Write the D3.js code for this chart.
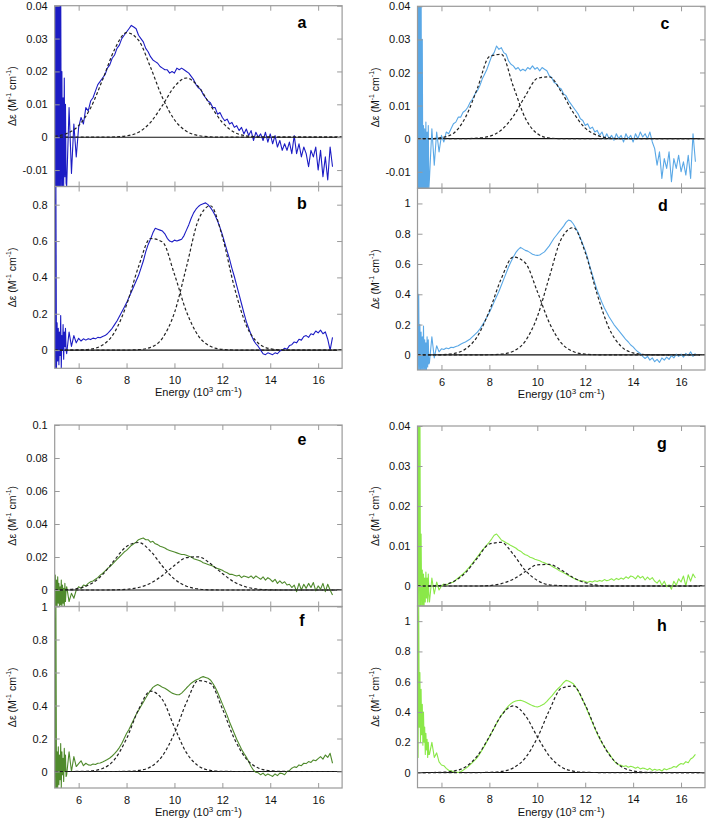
<!DOCTYPE html>
<html><head><meta charset="utf-8">
<script src="https://cdn.jsdelivr.net/npm/d3@7"></script>
<style>body{margin:0;background:#fff}svg{display:block}text{font-family:"Liberation Sans",Arial,sans-serif}</style>
</head><body><svg id="chart" width="706" height="819"></svg>
<script>
// ---- data ----
const energy = [5.0,5.025,5.05,5.075,5.1,5.125,5.15,5.175,5.2,5.225,
5.25,5.275,5.3,5.325,5.35,5.375,5.4,5.425,5.45,5.475,
5.5,5.6,5.7,5.8,5.9,
6.0,6.1,6.2,6.3,6.4,6.5,6.6,6.7,6.8,6.9,
7.0,7.1,7.2,7.3,7.4,7.5,7.6,7.7,7.8,7.9,
8.0,8.1,8.2,8.3,8.4,8.5,8.6,8.7,8.8,8.9,
9.0,9.1,9.2,9.3,9.4,9.5,9.6,9.7,9.8,9.9,
10.0,10.1,10.2,10.3,10.4,10.5,10.6,10.7,10.8,10.9,
11.0,11.1,11.2,11.3,11.4,11.5,11.6,11.7,11.8,11.9,
12.0,12.1,12.2,12.3,12.4,12.5,12.6,12.7,12.8,12.9,
13.0,13.1,13.2,13.3,13.4,13.5,13.6,13.7,13.8,13.9,
14.0,14.1,14.2,14.3,14.4,14.5,14.6,14.7,14.8,14.9,
15.0,15.1,15.2,15.3,15.4,15.5,15.6,15.7,15.8,15.9,
16.0,16.1,16.2,16.3,16.4,16.5,16.6];

const fitEnergy = [5.0,5.5,6.0,6.5,7.0,7.5,8.0,8.5,9.0,9.5,10.0,10.5,11.0,11.5,12.0,12.5,13.0,13.5,14.0,14.5,15.0,15.5,16.0,16.5,17.0];

const xTicks = [6,8,10,12,14,16];

// panel a
const specA = [0.05,-0.02,0.05,-0.02,0.05,-0.02,0.05,-0.02,0.05,-0.02,
0.05,-0.015,0.02,-0.015,0.012,-0.015,0.018,-0.012,0.01,-0.014,
-0.015,0.009,-0.011,0.004,-0.006,
0.003,0.006,0.004,0.009,0.008,0.011,0.012,0.014,0.016,0.017,
0.018,0.019,0.021,0.022,0.024,0.025,0.027,0.028,0.030,0.031,
0.032,0.033,0.034,0.0335,0.033,0.031,0.030,0.029,0.027,0.026,
0.0245,0.0235,0.023,0.0225,0.0215,0.021,0.0205,0.0205,0.0195,0.020,
0.0195,0.021,0.0205,0.021,0.0205,0.020,0.0195,0.0185,0.0175,0.016,
0.015,0.0145,0.013,0.012,0.011,0.0105,0.009,0.009,0.007,0.0075,
0.006,0.005,0.0055,0.004,0.0045,0.003,0.0035,0.002,0.003,0.001,
0.0025,0.0005,0.002,-0.001,0.0015,0.0,0.001,-0.001,0.0015,-0.0015,
0.001,-0.002,0.0005,-0.003,-0.001,-0.004,-0.002,-0.004,-0.0015,-0.005,
0.0005,-0.005,-0.002,-0.006,-0.003,-0.005,-0.009,-0.004,-0.006,-0.003,
-0.010,-0.004,-0.012,-0.006,-0.013,-0.003,-0.009];
const fitA1 = [0.0003,0.0011,0.0035,0.0089,0.0175,0.0267,0.0318,0.0295,0.0213,0.0120,0.0053,0.0018,0.0005,0.0001,0,0,0,0,0,0,0,0,0,0,0];
const fitA2 = [0,0,0,0,0,0.0001,0.0004,0.0015,0.0045,0.0097,0.0154,0.018,0.0154,0.0097,0.0045,0.0015,0.0004,0.0001,0,0,0,0,0,0,0];
const ticksA = [-0.01,0,0.01,0.02,0.03,0.04];

// panel b
const specB = [0.9,-0.1,0.9,-0.1,0.15,-0.06,0.12,-0.08,0.1,-0.03,
0.19,-0.1,0.08,0.0,0.14,-0.05,0.1,0.02,0.12,0.0,
-0.02,0.1,0.02,0.08,0.04,
0.065,0.05,0.062,0.055,0.063,0.058,0.066,0.062,0.07,0.068,
0.075,0.08,0.09,0.105,0.12,0.14,0.16,0.185,0.21,0.235,
0.26,0.29,0.32,0.35,0.38,0.41,0.45,0.49,0.54,0.58,
0.61,0.645,0.67,0.665,0.66,0.655,0.64,0.615,0.60,0.595,
0.605,0.60,0.605,0.61,0.63,0.66,0.69,0.725,0.755,0.775,
0.79,0.80,0.805,0.81,0.80,0.785,0.765,0.74,0.71,0.675,
0.635,0.59,0.545,0.50,0.45,0.405,0.355,0.305,0.255,0.205,
0.157,0.12,0.085,0.055,0.035,0.02,0.0,-0.02,-0.025,-0.015,
-0.02,-0.025,-0.015,-0.02,-0.005,0.0,0.01,0.005,0.025,0.03,
0.045,0.04,0.06,0.055,0.075,0.08,0.07,0.09,0.085,0.105,
0.095,0.11,0.09,0.1,0.06,0.0,0.07];
const fitB1 = [0,0.0001,0.0009,0.0057,0.028,0.098,0.249,0.459,0.614,0.595,0.417,0.212,0.078,0.021,0.004,0.0006,0,0,0,0,0,0,0,0,0];
const fitB2 = [0,0,0,0,0,0,0.0003,0.0024,0.015,0.066,0.206,0.457,0.716,0.794,0.624,0.346,0.136,0.038,0.0074,0.001,0,0,0,0,0];
const ticksB = [0,0.2,0.4,0.6,0.8];

// panel c
const specC = [0.05,-0.02,0.05,-0.02,0.05,-0.02,0.05,-0.02,0.03,-0.02,
0.004,-0.02,0.003,-0.02,0.005,-0.018,0.002,-0.016,0.004,-0.015,
-0.012,0.003,-0.008,0.002,-0.004,
0.001,-0.001,0.002,0.0015,0.003,0.0045,0.005,0.0065,0.0065,0.008,
0.0085,0.0095,0.011,0.012,0.0135,0.0145,0.016,0.018,0.0195,0.021,
0.023,0.025,0.026,0.028,0.027,0.0275,0.026,0.0255,0.0235,0.0225,
0.022,0.021,0.0215,0.0205,0.021,0.0205,0.0215,0.021,0.022,0.021,
0.0215,0.0205,0.0215,0.021,0.0205,0.019,0.0185,0.017,0.0165,0.0155,
0.015,0.0135,0.013,0.0115,0.0105,0.0095,0.0085,0.0075,0.006,0.0055,
0.004,0.0045,0.003,0.0035,0.002,0.0025,0.001,0.002,0.0,0.0015,
0.0,0.001,-0.0005,0.0015,0.0,0.001,-0.001,0.0015,0.0,0.001,
-0.001,0.0015,0.0,0.002,0.0005,0.0015,0.0,0.002,-0.001,-0.003,
-0.008,-0.004,-0.012,-0.006,-0.009,-0.004,-0.013,-0.006,-0.009,-0.005,
-0.01,-0.007,-0.011,-0.005,-0.012,0.0015,-0.007];
const fitC1 = [0,0,0.0003,0.0016,0.0064,0.0152,0.0248,0.0255,0.0158,0.0062,0.0015,0.0002,0,0,0,0,0,0,0,0,0,0,0,0,0];
const fitC2 = [0,0,0,0,0,0.0002,0.0007,0.0026,0.0068,0.0129,0.0182,0.0187,0.0142,0.0079,0.0032,0.001,0.0002,0,0,0,0,0,0,0,0];
const ticksC = [-0.01,0,0.01,0.02,0.03,0.04];

// panel d
const specD = [0.68,-0.1,0.4,-0.1,0.2,-0.1,0.15,-0.1,0.12,-0.1,
0.19,-0.1,0.1,-0.1,0.08,-0.1,0.12,-0.08,0.1,-0.06,
-0.05,0.12,-0.02,0.06,0.02,
0.04,0.035,0.045,0.04,0.05,0.048,0.055,0.06,0.07,0.078,
0.085,0.095,0.105,0.12,0.135,0.15,0.17,0.195,0.22,0.25,
0.28,0.315,0.35,0.385,0.42,0.46,0.50,0.54,0.58,0.615,
0.646,0.675,0.695,0.71,0.70,0.69,0.685,0.675,0.665,0.66,
0.657,0.66,0.67,0.68,0.70,0.72,0.745,0.77,0.79,0.81,
0.83,0.85,0.875,0.89,0.885,0.866,0.84,0.81,0.77,0.73,
0.69,0.64,0.58,0.53,0.475,0.426,0.385,0.345,0.31,0.28,
0.25,0.225,0.2,0.18,0.16,0.14,0.12,0.10,0.085,0.065,
0.053,0.035,0.02,0.01,-0.01,-0.024,-0.01,-0.035,-0.02,-0.045,
-0.03,-0.05,-0.02,-0.035,-0.015,-0.03,-0.005,-0.02,0.005,-0.01,
0.005,-0.015,0.01,-0.005,0.02,-0.01,0.01];
const fitD1 = [0,0.0002,0.0014,0.0086,0.038,0.122,0.29,0.505,0.646,0.607,0.419,0.213,0.079,0.022,0.0044,0.0006,0,0,0,0,0,0,0,0,0];
const fitD2 = [0,0,0,0,0,0,0.0007,0.0047,0.024,0.091,0.252,0.513,0.765,0.84,0.677,0.40,0.174,0.056,0.013,0.0023,0.0003,0,0,0,0];
const ticksD = [0,0.2,0.4,0.6,0.8,1];

// panel e
const specE = [-0.01,0.009,-0.01,0.006,-0.01,0.008,-0.008,0.004,-0.01,0.002,
-0.009,0.006,-0.01,0.003,-0.008,0.001,-0.01,0.004,-0.007,0.0,
0.002,-0.007,-0.002,-0.005,0.0,
0.002,0.001,0.003,0.0025,0.004,0.005,0.0055,0.0065,0.0075,0.009,
0.010,0.0115,0.013,0.014,0.0155,0.017,0.0185,0.02,0.0215,0.023,
0.024,0.0255,0.027,0.028,0.029,0.0305,0.031,0.0315,0.0305,0.0305,
0.029,0.0295,0.028,0.0275,0.0265,0.026,0.0255,0.0245,0.024,0.0235,
0.023,0.0225,0.022,0.0215,0.0215,0.021,0.0205,0.02,0.019,0.0185,
0.018,0.0175,0.0165,0.016,0.0155,0.015,0.0145,0.0135,0.013,0.0125,
0.012,0.011,0.0105,0.0095,0.0095,0.009,0.0085,0.009,0.0075,0.0085,
0.008,0.0075,0.0085,0.007,0.0085,0.0075,0.0065,0.008,0.006,0.0075,
0.0065,0.005,0.0065,0.004,0.0055,0.004,0.005,0.003,0.0035,0.0015,
0.003,-0.001,0.004,0.0,0.0035,0.001,0.004,0.0015,0.0045,-0.0005,
0.0025,0.0005,0.004,-0.001,0.0035,0.0,-0.003];
const fitE1 = [0,0.0002,0.001,0.0036,0.0093,0.0182,0.0264,0.0288,0.0236,0.0144,0.0066,0.0023,0.0006,0.0001,0,0,0,0,0,0,0,0,0,0,0];
const fitE2 = [0,0,0,0,0,0.0001,0.0004,0.0015,0.0041,0.0088,0.0149,0.0196,0.0201,0.016,0.01,0.0048,0.0018,0.0005,0.0001,0,0,0,0,0,0];
const ticksE = [0,0.02,0.04,0.06,0.08,0.1];

// panel f
const specF = [1.0,-0.1,1.0,-0.1,0.12,-0.1,0.15,-0.08,0.1,-0.05,
0.17,-0.1,0.12,-0.02,0.08,-0.06,0.14,0.0,0.1,-0.03,
-0.02,0.12,0.0,0.09,0.03,
0.048,0.065,0.035,0.05,0.04,0.038,0.045,0.042,0.05,0.052,
0.058,0.065,0.073,0.082,0.094,0.108,0.125,0.145,0.17,0.20,
0.23,0.255,0.285,0.315,0.345,0.37,0.395,0.42,0.445,0.47,
0.49,0.51,0.52,0.527,0.52,0.51,0.505,0.495,0.485,0.475,
0.47,0.465,0.465,0.475,0.49,0.506,0.52,0.535,0.545,0.555,
0.56,0.57,0.575,0.57,0.565,0.555,0.535,0.51,0.48,0.445,
0.41,0.375,0.34,0.30,0.265,0.23,0.195,0.165,0.135,0.11,
0.088,0.06,0.03,0.008,-0.005,-0.008,-0.02,-0.01,-0.025,-0.015,
-0.022,-0.03,-0.015,-0.025,-0.01,-0.012,-0.02,0.0,0.005,0.02,
0.028,0.025,0.04,0.035,0.05,0.048,0.06,0.055,0.07,0.065,
0.078,0.09,0.075,0.1,0.085,0.11,0.05];
const fitF1 = [0,0,0.0004,0.0032,0.018,0.073,0.199,0.375,0.487,0.435,0.268,0.114,0.034,0.0068,0.0009,0.0001,0,0,0,0,0,0,0,0,0];
const fitF2 = [0,0,0,0,0,0,0.001,0.0063,0.028,0.095,0.232,0.418,0.551,0.534,0.381,0.199,0.076,0.021,0.0045,0.0007,0,0,0,0,0];
const ticksF = [0,0.2,0.4,0.6,0.8,1];

// panel g
const specG = [0.05,-0.005,0.05,-0.005,0.05,-0.005,0.013,-0.005,0.004,-0.005,
0.003,-0.005,0.002,-0.004,0.0035,-0.003,0.002,-0.004,0.003,-0.002,
-0.004,0.002,-0.002,0.001,-0.001,
0.0,0.0005,0.0002,0.0006,0.0008,0.001,0.0015,0.002,0.0025,0.003,
0.0036,0.0043,0.005,0.0057,0.0065,0.0073,0.0081,0.0089,0.0096,0.0103,
0.011,0.0118,0.0127,0.013,0.0123,0.0115,0.0112,0.0108,0.0105,0.0101,
0.0098,0.0095,0.009,0.0087,0.0082,0.0078,0.0076,0.0072,0.007,0.0067,
0.0065,0.0063,0.006,0.0058,0.0055,0.0053,0.005,0.0046,0.0043,0.0039,
0.0036,0.0033,0.003,0.0026,0.0023,0.002,0.0017,0.0015,0.0012,0.0013,
0.0011,0.0009,0.0012,0.001,0.0013,0.0011,0.0014,0.0012,0.0016,0.0013,
0.0015,0.0018,0.0014,0.0019,0.0016,0.002,0.0017,0.0023,0.0019,0.0025,
0.0023,0.0018,0.0026,0.002,0.0024,0.0015,0.0022,0.0016,0.0021,0.0012,
0.0007,0.0015,0.0002,0.0012,-0.0002,0.0003,-0.0008,0.0012,0.0002,0.0018,
0.001,0.0025,0.0,0.0028,0.0012,0.003,0.002];
const fitG1 = [0,0,0.0002,0.0011,0.0033,0.007,0.0105,0.0109,0.0079,0.0039,0.0014,0.0003,0.0001,0,0,0,0,0,0,0,0,0,0,0,0];
const fitG2 = [0,0,0,0,0,0,0.0001,0.0006,0.0017,0.0036,0.0053,0.0054,0.004,0.0021,0.0008,0.0002,0,0,0,0,0,0,0,0,0];
const ticksG = [0,0.01,0.02,0.03,0.04];

// panel h
const specH = [1.1,0.1,1.1,0.3,0.66,0.2,0.55,0.25,0.45,0.18,
0.4,0.2,0.3,0.12,0.26,0.15,0.22,0.1,0.2,0.12,
0.12,0.2,0.1,0.13,0.07,
0.05,0.045,0.028,0.015,0.012,0.005,0.003,0.0,0.006,0.015,
0.026,0.038,0.052,0.068,0.084,0.10,0.125,0.15,0.178,0.206,
0.235,0.265,0.295,0.325,0.352,0.378,0.40,0.422,0.44,0.455,
0.466,0.472,0.476,0.477,0.472,0.466,0.458,0.45,0.442,0.436,
0.433,0.438,0.446,0.455,0.47,0.488,0.505,0.525,0.545,0.56,
0.576,0.595,0.609,0.605,0.597,0.587,0.565,0.54,0.51,0.478,
0.444,0.405,0.368,0.33,0.293,0.257,0.225,0.195,0.17,0.145,
0.125,0.1,0.078,0.06,0.052,0.048,0.04,0.045,0.035,0.042,
0.037,0.028,0.036,0.024,0.03,0.026,0.018,0.028,0.014,0.022,
0.015,0.02,0.01,0.025,0.018,0.026,0.03,0.04,0.035,0.05,
0.06,0.055,0.072,0.065,0.09,0.1,0.12];
const fitH1 = [0,0.0002,0.0017,0.0093,0.037,0.110,0.237,0.377,0.44,0.377,0.237,0.110,0.037,0.0093,0.0017,0.0002,0,0,0,0,0,0,0,0,0];
const fitH2 = [0,0,0,0,0,0,0.0014,0.0076,0.031,0.097,0.229,0.41,0.556,0.572,0.446,0.263,0.118,0.04,0.0103,0.002,0.0005,0,0,0,0];
const ticksH = [0,0.2,0.4,0.6,0.8,1];

const colors = {a:"#1c1cc4", b:"#1c1cc4", c:"#5aa8e6", d:"#5aa8e6", e:"#4f8a2c", f:"#4f8a2c", g:"#8ae848", h:"#8ae848"};

// ---- layout ----
const colX = [[54.7, 342.1], [417.5, 705]];
const panels = [
  {id:"a", spec:specA, f1:fitA1, f2:fitA2, ticks:ticksA, dom:[-0.015,0.04], col:0, top:5.7, bot:186.5, xlabels:false, lx:302, ly:22},
  {id:"b", spec:specB, f1:fitB1, f2:fitB2, ticks:ticksB, dom:[-0.1,0.9], col:0, top:186.5, bot:368.3, xlabels:true, lx:302, ly:203},
  {id:"c", spec:specC, f1:fitC1, f2:fitC2, ticks:ticksC, dom:[-0.015,0.04], col:1, top:6.3, bot:188.3, xlabels:false, lx:665, ly:23},
  {id:"d", spec:specD, f1:fitD1, f2:fitD2, ticks:ticksD, dom:[-0.1,1.1], col:1, top:188.3, bot:370, xlabels:true, lx:663, ly:205},
  {id:"e", spec:specE, f1:fitE1, f2:fitE2, ticks:ticksE, dom:[-0.01,0.1], col:0, top:425, bot:606.5, xlabels:false, lx:302, ly:439},
  {id:"f", spec:specF, f1:fitF1, f2:fitF2, ticks:ticksF, dom:[-0.1,1.0], col:0, top:606.5, bot:788, xlabels:true, lx:302, ly:620},
  {id:"g", spec:specG, f1:fitG1, f2:fitG2, ticks:ticksG, dom:[-0.005,0.04], col:1, top:426, bot:606, xlabels:false, lx:662, ly:443},
  {id:"h", spec:specH, f1:fitH1, f2:fitH2, ticks:ticksH, dom:[-0.1,1.1], col:1, top:606, bot:787.7, xlabels:true, lx:662, ly:625}
];

const svg = d3.select("#chart");
const fmt = v => String(+v.toFixed(3));
const frameColor = "#9a9a9a";

panels.forEach(p => {
  const [xl, xr] = colX[p.col];
  const x = d3.scaleLinear().domain([5,17]).range([xl, xr]);
  const y = d3.scaleLinear().domain(p.dom).range([p.bot, p.top]);
  const g = svg.append("g");
  const clipId = "clip-" + p.id;
  g.append("clipPath").attr("id", clipId).append("rect")
    .attr("x", xl).attr("y", p.top).attr("width", xr - xl).attr("height", p.bot - p.top);
  const plot = g.append("g").attr("clip-path", `url(#${clipId})`);

  // zero line
  plot.append("line").attr("x1", xl).attr("x2", xr).attr("y1", y(0)).attr("y2", y(0))
    .attr("stroke", "#111").attr("stroke-width", 1.1);

  const fitLine = d3.line().x((d, i) => x(fitEnergy[i])).y(d => y(d)).curve(d3.curveMonotoneX);

  const specLine = d3.line().x((d, i) => x(energy[i])).y(d => y(d));
  plot.append("path").datum(p.spec).attr("d", specLine)
    .attr("fill", "none").attr("stroke", colors[p.id]).attr("stroke-width", 1.1)
    .attr("stroke-linejoin", "round");

  [p.f1, p.f2].forEach(f => {
    plot.append("path").datum(f).attr("d", fitLine)
      .attr("fill", "none").attr("stroke", "#222").attr("stroke-width", 1.2)
      .attr("stroke-dasharray", "3,2.2");
  });

  // frame
  g.append("rect").attr("x", xl).attr("y", p.top).attr("width", xr - xl).attr("height", p.bot - p.top)
    .attr("fill", "none").attr("stroke", frameColor).attr("stroke-width", 1.2);

  // axes
  const styleAxis = sel => {
    sel.select(".domain").remove();
    sel.selectAll(".tick line").attr("stroke", frameColor).attr("stroke-width", 1);
    sel.selectAll(".tick text").attr("fill", "#111").style("font-size", "11px")
      .style("font-family", '"Liberation Sans", Arial, sans-serif');
  };
  g.append("g").attr("transform", `translate(${xl},0)`)
    .call(d3.axisLeft(y).tickValues(p.ticks).tickSize(-5).tickPadding(7).tickFormat(fmt)).call(styleAxis);
  g.append("g").attr("transform", `translate(${xr},0)`)
    .call(d3.axisRight(y).tickValues(p.ticks).tickSize(-5).tickFormat("")).call(styleAxis);
  g.append("g").attr("transform", `translate(0,${p.top})`)
    .call(d3.axisTop(x).tickValues(xTicks).tickSize(-5).tickFormat("")).call(styleAxis);
  g.append("g").attr("transform", `translate(0,${p.bot})`)
    .call(d3.axisBottom(x).tickValues(xTicks).tickSize(-5).tickPadding(8).tickFormat(p.xlabels ? d3.format("d") : "")).call(styleAxis);

  // panel letter
  g.append("text").attr("x", p.lx).attr("y", p.ly).attr("text-anchor", "middle")
    .attr("dominant-baseline", "central").style("font-weight", "bold").style("font-size", "16px")
    .text(p.id);

  // y title
  const yt = g.append("text")
    .attr("transform", `translate(${xl - 43},${(p.top + p.bot) / 2}) rotate(-90)`)
    .attr("text-anchor", "middle").attr("dominant-baseline", "central")
    .style("font-size", "10.5px").attr("fill", "#111");
  yt.append("tspan").text("\u0394\u03b5 (M");
  yt.append("tspan").attr("dy", -4).style("font-size", "7px").text("-1");
  yt.append("tspan").attr("dy", 4).text(" cm");
  yt.append("tspan").attr("dy", -4).style("font-size", "7px").text("-1");
  yt.append("tspan").attr("dy", 4).text(")");

  // x title
  if (p.xlabels) {
    const xt = g.append("text").attr("x", (xl + xr) / 2 + 0).attr("y", p.bot + 28)
      .attr("text-anchor", "middle").style("font-size", "11px").attr("fill", "#111");
    xt.append("tspan").text("Energy (10");
    xt.append("tspan").attr("dy", -4).style("font-size", "8px").text("3");
    xt.append("tspan").attr("dy", 4).text(" cm");
    xt.append("tspan").attr("dy", -4).style("font-size", "8px").text("-1");
    xt.append("tspan").attr("dy", 4).text(")");
  }
});
</script>
</body></html>
